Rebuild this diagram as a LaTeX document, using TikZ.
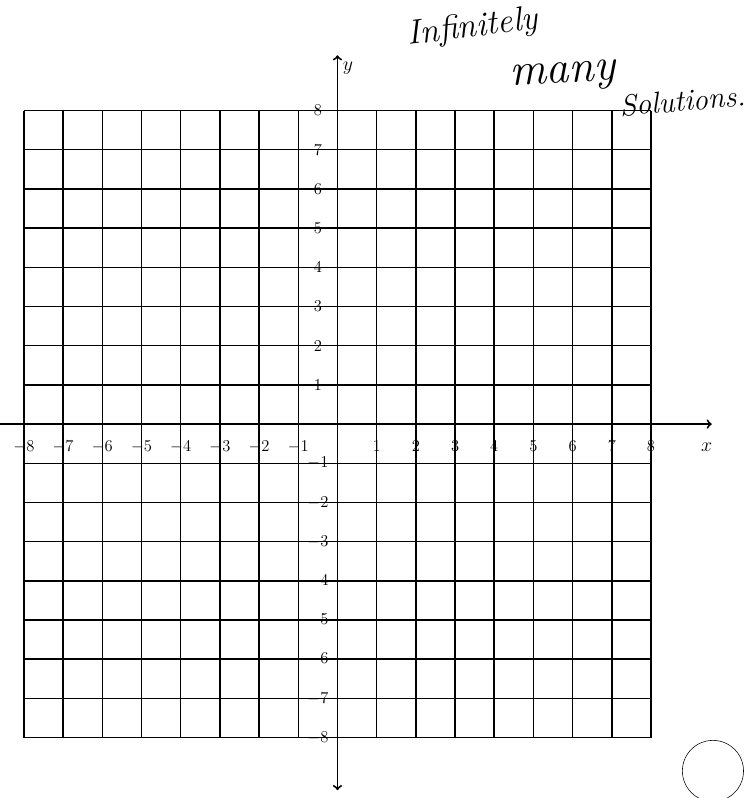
\documentclass[tikz,border=0pt]{standalone}
\usepackage{tikz}
\usetikzlibrary{calc}

\tikzset{
	ticklabel/.style={font=\large, inner sep=0pt},
	handnote/.style={font=\huge\itshape, inner sep=0pt},
}

\begin{document}
\begin{tikzpicture}[x=1cm,y=1cm]

\useasboundingbox (-8.61,-9.54) rectangle (10.55,10.82);

\draw[step=1cm,black,line width=1.1pt] (-8,-8) grid (8,8);

%axes
\coordinate (xstart) at (-8.61,0);
\coordinate (xend) at (9.55,0);
\coordinate (ystart) at (0,-9.34);
\coordinate (yend) at (0,9.41);
\draw[->,line width=1.4pt](xstart)--(xend);
\draw[<->,line width=1.4pt](ystart)--(yend);
\node[font=\Large](xlabel) at (9.42,-0.59){$x$};
\node[font=\Large](ylabel) at (0.27,9.08){$y$};

\foreach \i in {-8, ..., -1, 1, 2, ..., 8}
{
	\node[ticklabel](xtick\i) at (\i,-0.57){$\i$};
	\node[ticklabel](ytick\i) at (-0.5,\i){$\i$};
}

%add annotations
\node[handnote,rotate=7,scale=1.2](noteA) at (3.45,10.1){Infinitely};
\node[handnote,rotate=3,scale=1.6](noteB) at (5.75,8.85){many};
\node[handnote,rotate=5,scale=1.05](noteC) at (8.8,8.25){Solutions.};
\node[circle,draw=black,thin,minimum size=1.56cm](mark) at (9.58,-8.85){};
\end{tikzpicture}
\end{document}
